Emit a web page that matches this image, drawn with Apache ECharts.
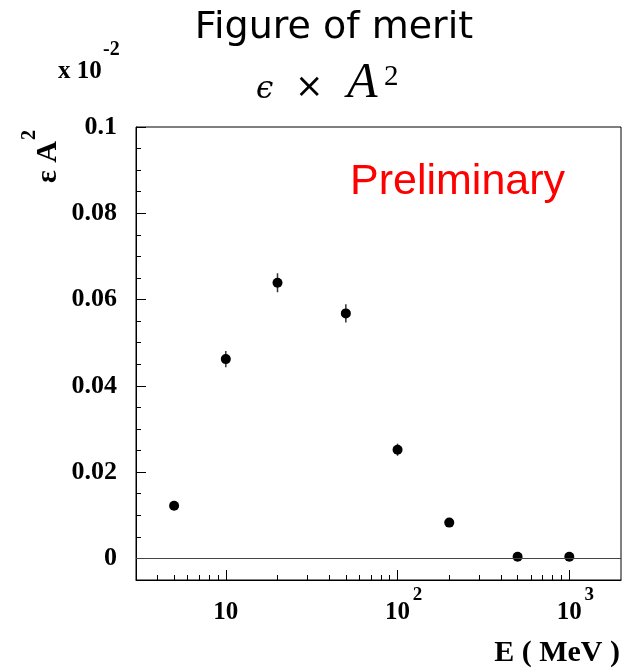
<!DOCTYPE html>
<html><head><meta charset="utf-8">
<script src="https://cdn.jsdelivr.net/npm/echarts@6/dist/echarts.min.js"></script>
<style>html,body{margin:0;padding:0;background:#fff}#c{width:634px;height:669px}</style>
</head><body><div id="c"></div>
<script>
// ---- data ----
const energies = [5, 10, 20, 50, 100, 200, 500, 1000];            // E (MeV)
const merit    = [0.0122, 0.0462, 0.0639, 0.0568, 0.0252, 0.0083, 0.0004, 0.0004];
const meritErr = [0.0005, 0.0019, 0.0022, 0.0021, 0.0014, 0.0007, 0.0002, 0.0002];
const yMajorTicks = [0, 0.02, 0.04, 0.06, 0.08, 0.1];
const yMinorTicks = [0.005, 0.01, 0.015, 0.025, 0.03, 0.035, 0.045, 0.05, 0.055, 0.065, 0.07, 0.075, 0.085, 0.09, 0.095];
const xMajorTicks = [10, 100, 1000];
const xTickBase = ['10', '10', '10'];
const xTickExponents = ['', '2', '3'];
const xMinorTicks = [4, 5, 6, 7, 8, 9, 20, 30, 40, 50, 60, 70, 80, 90, 200, 300, 400, 500, 600, 700, 800, 900];

const SERIF = '"Liberation Serif", "Times New Roman", serif';
const chart = echarts.init(document.getElementById('c'), null, {renderer: 'canvas'});

function xLabel(v) {
  const k = Math.round(Math.log10(v));
  const i = xMajorTicks.findIndex(t => Math.round(Math.log10(t)) === k);
  if (i < 0) return '';
  const e = xTickExponents[i] || ' ';
  return '{p| }{b|' + xTickBase[i] + '}{s|' + e + '}';
}

const scatterData = energies.map((e, i) => [e, merit[i]]);
const errData = energies.map((e, i) => [e, merit[i], meritErr[i]]);

const option = {
  animation: false,
  backgroundColor: '#fff',
  grid: {left: 136, top: 127, width: 485, height: 453, show: true, borderColor: '#000', borderWidth: 1, backgroundColor: 'transparent'},
  xAxis: [
    {
      type: 'log', logBase: 10, min: 3, max: 2000, position: 'bottom',
      axisLine: {show: true, onZero: false, lineStyle: {color: '#000', width: 1}},
      axisTick: {show: true, inside: true, length: 10, customValues: xMajorTicks, lineStyle: {color: '#000', width: 1}},
      axisLabel: {
        show: true, customValues: xMajorTicks, margin: 4, formatter: xLabel,
        rich: {
          p: {width: 15, fontSize: 18},
          b: {fontFamily: SERIF, fontWeight: 'bold', fontSize: 25, color: '#000', padding: [16, 0, 0, 0]},
          s: {width: 15, fontFamily: SERIF, fontWeight: 'bold', fontSize: 19, color: '#000', padding: [0, 0, 18, 0]}
        }
      },
      splitLine: {show: false}, minorTick: {show: false}
    },
    {
      type: 'log', logBase: 10, min: 3, max: 2000, position: 'bottom',
      axisLine: {show: false, onZero: false},
      axisTick: {show: true, inside: true, length: 5, customValues: xMinorTicks, lineStyle: {color: '#000', width: 1}},
      axisLabel: {show: false}, splitLine: {show: false}
    }
  ],
  yAxis: [
    {
      type: 'value', min: -0.005, max: 0.1, position: 'left',
      axisLine: {show: true, onZero: false, lineStyle: {color: '#000', width: 1}},
      axisTick: {show: true, inside: true, length: 10, customValues: yMajorTicks, lineStyle: {color: '#000', width: 1}},
      axisLabel: {show: true, customValues: yMajorTicks, margin: 19, fontFamily: SERIF, fontWeight: 'bold', fontSize: 26, color: '#000'},
      splitLine: {show: false}
    },
    {
      type: 'value', min: -0.005, max: 0.1, position: 'left', offset: 0,
      axisLine: {show: false, onZero: false},
      axisTick: {show: true, inside: true, length: 5, customValues: yMinorTicks, lineStyle: {color: '#000', width: 1}},
      axisLabel: {show: false}, splitLine: {show: false}
    }
  ],
  series: [
    {
      type: 'custom', xAxisIndex: 0, yAxisIndex: 0, z: 2,
      data: errData,
      renderItem: function (params, api) {
        const x = api.value(0), y = api.value(1), e = api.value(2);
        const p1 = api.coord([x, y - e]);
        const p2 = api.coord([x, y + e]);
        return {type: 'line', shape: {x1: p1[0], y1: p1[1], x2: p2[0], y2: p2[1]}, style: {stroke: '#333', lineWidth: 1.5}};
      }
    },
    {
      type: 'scatter', xAxisIndex: 0, yAxisIndex: 0, z: 3,
      data: scatterData, symbol: 'circle', symbolSize: 10,
      itemStyle: {color: '#000', opacity: 1},
      markLine: {
        silent: true, symbol: ['none', 'none'], label: {show: false},
        lineStyle: {color: '#444', width: 1.2, type: 'solid'},
        data: [{yAxis: 0}]
      }
    }
  ],
  graphic: [
    {type: 'text', x: 334, y: 28, style: {text: 'Figure of merit', fontFamily: '"DejaVu Sans"', fontSize: 38, fill: '#000', align: 'center', verticalAlign: 'middle'}},
    {type: 'text', x: 256, y: 90, style: {text: 'ϵ', fontFamily: '"DejaVu Serif"', fontStyle: 'italic', fontSize: 31, fill: '#000', align: 'left', verticalAlign: 'middle'}},
    {type: 'text', x: 295, y: 88, style: {text: '×', fontFamily: '"DejaVu Sans"', fontSize: 34, fill: '#000', align: 'left', verticalAlign: 'middle'}},
    {type: 'text', x: 347, y: 84, style: {text: 'A', fontFamily: SERIF, fontStyle: 'italic', fontSize: 50, fill: '#000', align: 'left', verticalAlign: 'middle'}},
    {type: 'text', x: 384, y: 77, style: {text: '2', fontFamily: SERIF, fontSize: 29, fill: '#000', align: 'left', verticalAlign: 'middle'}},
    {type: 'text', x: 58, y: 72, style: {text: 'x 10', fontFamily: SERIF, fontWeight: 'bold', fontSize: 25, fill: '#000', align: 'left', verticalAlign: 'middle'}},
    {type: 'text', x: 103, y: 50, style: {text: '-2', fontFamily: SERIF, fontWeight: 'bold', fontSize: 20, fill: '#000', align: 'left', verticalAlign: 'middle'}},
    {type: 'text', x: 350, y: 182, style: {text: 'Preliminary', fontFamily: '"Liberation Sans"', fontSize: 43, fill: '#ff0000', align: 'left', verticalAlign: 'middle'}},
    {type: 'text', x: 48, y: 183, rotation: Math.PI / 2, style: {text: 'ε A', fontFamily: SERIF, fontWeight: 'bold', fontSize: 30, fill: '#000', align: 'left', verticalAlign: 'middle'}},
    {type: 'text', x: 30, y: 140, rotation: Math.PI / 2, style: {text: '2', fontFamily: SERIF, fontWeight: 'bold', fontSize: 20, fill: '#000', align: 'left', verticalAlign: 'middle'}},
    {type: 'text', x: 620, y: 653, style: {text: 'E ( MeV )', fontFamily: SERIF, fontWeight: 'bold', fontSize: 30, fill: '#000', align: 'right', verticalAlign: 'middle'}}
  ]
};
chart.setOption(option);
</script>
</body></html>
